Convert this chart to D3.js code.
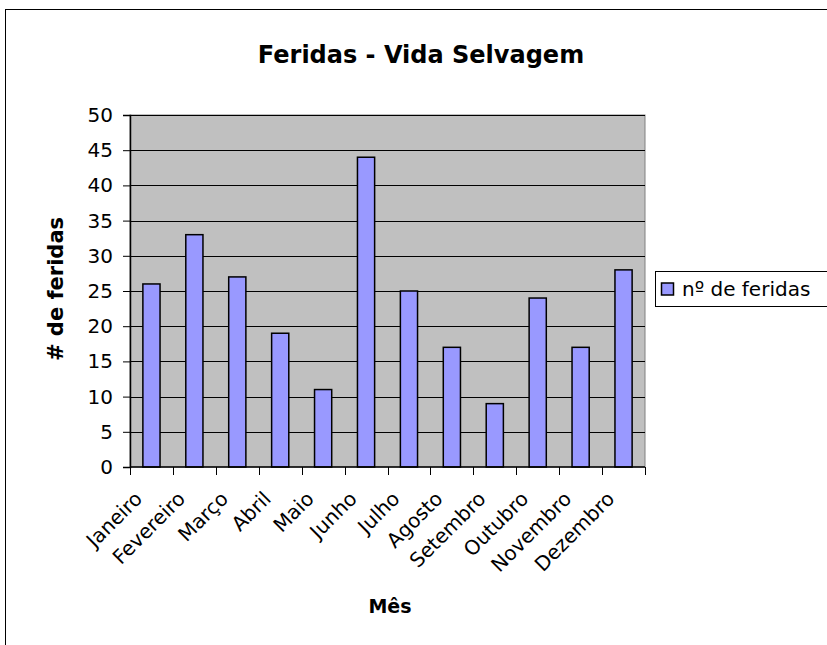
<!DOCTYPE html>
<html>
<head>
<meta charset="utf-8">
<script src="https://cdn.jsdelivr.net/npm/d3@7"></script>
<style>
  body { margin: 0; background: #fff; }
  text { font-family: "DejaVu Sans", Verdana, sans-serif; }
</style>
</head>
<body>
<div id="chart"></div>
<script>
// data
const months = ["Janeiro", "Fevereiro", "Março", "Abril", "Maio", "Junho",
                "Julho", "Agosto", "Setembro", "Outubro", "Novembro", "Dezembro"];
const feridas = [26, 33, 27, 19, 11, 44, 25, 17, 9, 24, 17, 28];
const yTicks = [0, 5, 10, 15, 20, 25, 30, 35, 40, 45, 50];
const seriesName = "nº de feridas";

const W = 827, H = 645;
const plot = { left: 130, top: 115, right: 645, bottom: 467 };

const svg = d3.select("#chart").append("svg")
    .attr("width", W)
    .attr("height", H);

// outer chart border (runs off the right and bottom)
svg.append("rect")
    .attr("x", 5.5).attr("y", 9.5)
    .attr("width", 900).attr("height", 900)
    .attr("fill", "#fff")
    .attr("stroke", "#000")
    .attr("stroke-width", 1);

const x = d3.scaleBand()
    .domain(months)
    .range([plot.left, plot.right])
    .paddingInner(0.6)
    .paddingOuter(0.3);

const y = d3.scaleLinear()
    .domain([0, 50])
    .range([plot.bottom, plot.top]);

// plot area
svg.append("rect")
    .attr("x", plot.left).attr("y", plot.top)
    .attr("width", plot.right - plot.left)
    .attr("height", plot.bottom - plot.top)
    .attr("fill", "#c0c0c0")
    .attr("stroke", "#808080")
    .attr("stroke-width", 1);

// gridlines
svg.append("g")
    .selectAll("line")
    .data(yTicks.filter(d => d > 0))
    .enter().append("line")
    .attr("x1", plot.left).attr("x2", plot.right)
    .attr("y1", d => Math.round(y(d)) + 0.5)
    .attr("y2", d => Math.round(y(d)) + 0.5)
    .attr("stroke", "#000")
    .attr("stroke-width", 1);

// bars
svg.append("g")
    .selectAll("rect")
    .data(feridas)
    .enter().append("rect")
    .attr("x", (d, i) => x(months[i]))
    .attr("y", d => y(d))
    .attr("width", x.bandwidth())
    .attr("height", d => plot.bottom - y(d))
    .attr("fill", "#9999ff")
    .attr("stroke", "#000")
    .attr("stroke-width", 1.5);

// y axis
const yAxis = svg.append("g")
    .attr("transform", "translate(" + plot.left + ",0)")
    .call(d3.axisLeft(y).tickValues(yTicks).tickSize(7).tickPadding(10));
yAxis.select(".domain").attr("stroke", "#000").attr("stroke-width", 1.5);
yAxis.selectAll("text")
    .attr("font-size", 20)
    .attr("fill", "#000")
    .style("font-family", "'DejaVu Sans', Verdana, sans-serif");

// x axis: ticks at category boundaries
const bounds = d3.range(months.length + 1).map(i => plot.left + i * (plot.right - plot.left) / months.length);
svg.append("line")
    .attr("x1", plot.left).attr("x2", plot.right)
    .attr("y1", plot.bottom).attr("y2", plot.bottom)
    .attr("stroke", "#000").attr("stroke-width", 1.5);
svg.append("g")
    .selectAll("line")
    .data(bounds)
    .enter().append("line")
    .attr("x1", d => Math.round(d) + 0.5).attr("x2", d => Math.round(d) + 0.5)
    .attr("y1", plot.bottom).attr("y2", plot.bottom + 8)
    .attr("stroke", "#000").attr("stroke-width", 1);

svg.append("g")
    .selectAll("text")
    .data(months)
    .enter().append("text")
    .attr("text-anchor", "end")
    .attr("font-size", 20)
    .attr("transform", d => "translate(" + (x(d) + x.bandwidth() / 2 - 8) + "," + (plot.bottom + 33) + ") rotate(-45)")
    .text(d => d);

// title and axis titles
svg.append("text")
    .attr("x", 421).attr("y", 63)
    .attr("text-anchor", "middle")
    .attr("font-size", 24)
    .attr("font-weight", "bold")
    .text("Feridas - Vida Selvagem");

svg.append("text")
    .attr("x", 390).attr("y", 613)
    .attr("text-anchor", "middle")
    .attr("font-size", 19)
    .attr("font-weight", "bold")
    .text("Mês");

svg.append("text")
    .attr("transform", "translate(63,289) rotate(-90)")
    .attr("text-anchor", "middle")
    .attr("font-size", 21)
    .attr("font-weight", "bold")
    .text("# de feridas");

// legend
const legend = svg.append("g").attr("transform", "translate(655,271)");
legend.append("rect")
    .attr("x", 0.5).attr("y", 0.5)
    .attr("width", 200).attr("height", 35)
    .attr("fill", "#fff")
    .attr("stroke", "#000")
    .attr("stroke-width", 1);
legend.append("rect")
    .attr("x", 6.5).attr("y", 12)
    .attr("width", 12).attr("height", 12)
    .attr("fill", "#9999ff")
    .attr("stroke", "#000")
    .attr("stroke-width", 1.5);
legend.append("text")
    .attr("x", 27).attr("y", 25)
    .attr("font-size", 20)
    .text(seriesName);
</script>
</body>
</html>
